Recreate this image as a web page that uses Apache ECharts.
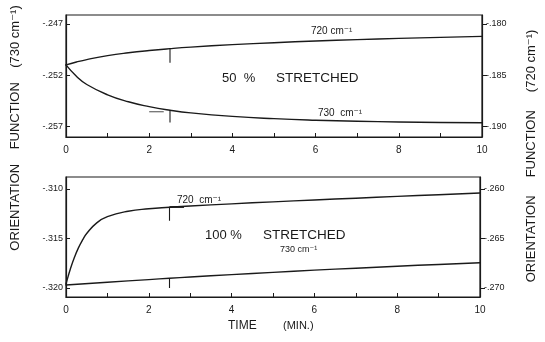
<!DOCTYPE html>
<html>
<head>
<meta charset="utf-8">
<script src="https://cdn.jsdelivr.net/npm/echarts@6/dist/echarts.min.js"></script>
<style>
  html, body { margin: 0; padding: 0; background: #fff; }
  #chart { width: 545px; height: 342px; }
</style>
</head>
<body>
<div id="chart"></div>
<script>
// Time axis (minutes)
const timeTicks = [0, 2, 4, 6, 8, 10];

// 50 % stretched sample
const time50 = [0, 0.25, 0.5, 1, 1.5, 2, 2.5, 3, 4, 5, 6, 7, 8, 9, 10];
const f730_50 = [-.25100, -.25210, -.25290, -.25390, -.25458, -.25505, -.25540, -.25566, -.25600, -.25622, -.25637, -.25647, -.25654, -.25659, -.25662];
const f720_50 = [-.18400, -.18372, -.18348, -.18310, -.18282, -.18260, -.18242, -.18227, -.18203, -.18184, -.18168, -.18154, -.18142, -.18132, -.18123];

// 100 % stretched sample
const time100_720 = [0, 0.05, 0.1, 0.2, 0.3, 0.4, 0.5, 0.75, 1, 1.5, 2, 2.5, 3, 4, 5, 6, 7, 8, 9, 10];
const f720_100 = [-.26960, -.26885, -.26815, -.26695, -.26595, -.26515, -.26450, -.26340, -.26280, -.26225, -.26200, -.26185, -.26172, -.26150, -.26130, -.26111, -.26093, -.26075, -.26058, -.26040];
const time100_730 = [0, 1, 2, 2.5, 3, 4, 5, 6, 7, 8, 9, 10];
const f730_100 = [-.31970, -.31942, -.31915, -.31902, -.31889, -.31865, -.31842, -.31820, -.31800, -.31780, -.31762, -.31745];

// Tick labels of the four orientation-function axes
const ticks730_50 = [-.257, -.252, -.247];
const ticks720_50 = [-.190, -.185, -.180];
const ticks730_100 = [-.320, -.315, -.310];
const ticks720_100 = [-.270, -.265, -.260];

// Short reference marks at t = 2.5 min
const markTime = 2.5;
const mark720_50 = [-.18242, -.1838];
const mark730_50 = [-.2554, -.2566];
const mark720_100 = [-.26185, -.2632];
const mark730_100 = [-.31902, -.3200];
const bracket720_100 = { t: [2.5, 2.85], v: -.26182 };
const dash730_50 = { t: [2.0, 2.35], v: -.25555 };

const FONT = '"Liberation Sans", "DejaVu Sans", Arial, sans-serif';
const INK = '#1a1a1a';

const pairs = (ts, vs) => ts.map((t, i) => [t, vs[i]]);
const fmt = v => '-' + Math.abs(v).toFixed(3).slice(1);

function xAxisFor(gridIndex) {
  return {
    type: 'value', gridIndex, min: 0, max: 10, interval: 1,
    axisLine: { show: true, lineStyle: { color: INK, width: 1.2 } },
    axisTick: { show: true, inside: true, length: 4, lineStyle: { color: INK } },
    axisLabel: {
      color: INK, fontFamily: FONT, fontSize: 10, margin: 8,
      formatter: v => (timeTicks.includes(v) ? String(v) : '')
    },
    splitLine: { show: false }
  };
}

function yAxisFor(gridIndex, position, min, max, ticks) {
  const right = position === 'right';
  return {
    type: 'value', gridIndex, position, min, max,
    axisLine: { show: true, onZero: false, lineStyle: { color: INK, width: 1.2 } },
    axisTick: { show: true, inside: !right, length: right ? 5 : 4, customValues: ticks, lineStyle: { color: INK } },
    axisLabel: { color: INK, fontFamily: FONT, fontSize: 9, margin: right ? 4 : 3, customValues: ticks, formatter: fmt },
    splitLine: { show: false }
  };
}

function curve(xi, yi, data) {
  return {
    type: 'line', xAxisIndex: xi, yAxisIndex: yi, data,
    smooth: 0.5, showSymbol: false, symbol: 'none',
    lineStyle: { color: INK, width: 1.4, cap: 'round', join: 'round' }, silent: true, animation: false
  };
}
function stroke(xi, yi, data, width) {
  return {
    type: 'line', xAxisIndex: xi, yAxisIndex: yi, data,
    showSymbol: false, symbol: 'none',
    lineStyle: { color: INK, width: width || 1.1 }, silent: true, animation: false
  };
}

function label(x, y, text, size, extra) {
  return {
    type: 'text', x, y, silent: true,
    style: Object.assign({ text, font: size + 'px ' + FONT, fill: INK, textVerticalAlign: 'middle' }, extra || {})
  };
}

const chart = echarts.init(document.getElementById('chart'), null, { renderer: 'canvas' });

chart.setOption({
  backgroundColor: '#fff',
  animation: false,
  grid: [
    { left: 66, right: 63, top: 15, height: 122, show: true, borderColor: INK, borderWidth: 1.2, backgroundColor: 'transparent' },
    { left: 66, right: 65, top: 177, height: 120, show: true, borderColor: INK, borderWidth: 1.2, backgroundColor: 'transparent' }
  ],
  xAxis: [xAxisFor(0), xAxisFor(1)],
  yAxis: [
    yAxisFor(0, 'left', -.2580, -.24615, ticks730_50),
    yAxisFor(0, 'right', -.1910, -.17915, ticks720_50),
    yAxisFor(1, 'left', -.32091, -.30879, ticks730_100),
    yAxisFor(1, 'right', -.27091, -.25879, ticks720_100)
  ],
  series: [
    curve(0, 0, pairs(time50, f730_50)),
    curve(0, 1, pairs(time50, f720_50)),
    curve(1, 3, pairs(time100_720, f720_100)),
    curve(1, 2, pairs(time100_730, f730_100)),
    stroke(0, 1, mark720_50.map(v => [markTime, v])),
    stroke(0, 0, mark730_50.map(v => [markTime, v])),
    stroke(1, 3, mark720_100.map(v => [markTime, v])),
    stroke(1, 2, mark730_100.map(v => [markTime, v])),
    stroke(1, 3, bracket720_100.t.map(t => [t, bracket720_100.v]), 1.8),
    stroke(0, 0, dash730_50.t.map(t => [t, dash730_50.v]), 0.8)
  ],
  graphic: [
    Object.assign(label(15, 128, 'ORIENTATION    FUNCTION    (730 cm⁻¹)', 13, { textAlign: 'center' }), { rotation: Math.PI / 2 }),
    Object.assign(label(531, 156, 'ORIENTATION     FUNCTION     (720 cm⁻¹)', 13, { textAlign: 'center' }), { rotation: Math.PI / 2 }),
    label(228, 326, 'TIME', 12),
    label(283, 326, '(MIN.)', 11),
    label(222, 78, '50  %', 13),
    label(276, 78, 'STRETCHED', 13.5),
    label(205, 235, '100 %', 13),
    label(263, 235, 'STRETCHED', 13.5),
    label(311, 31, '720 cm⁻¹', 10),
    label(318, 113, '730  cm⁻¹', 10),
    label(177, 200, '720  cm⁻¹', 10),
    label(280, 250, '730 cm⁻¹', 9)
  ]
});
</script>
</body>
</html>
